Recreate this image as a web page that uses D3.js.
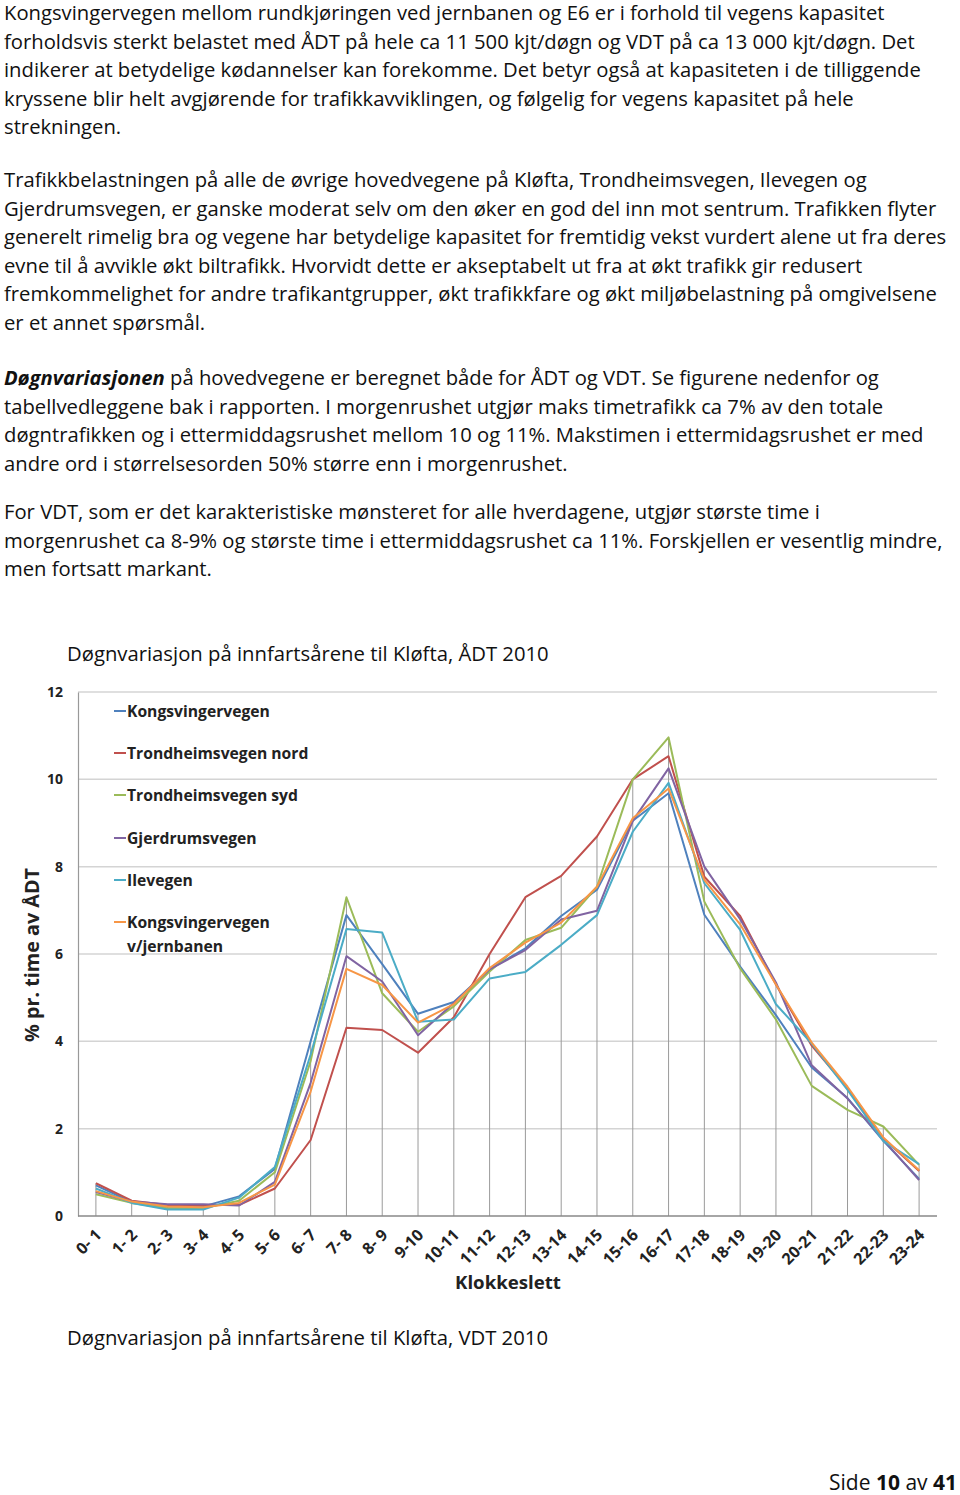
<!DOCTYPE html>
<html>
<head>
<meta charset="utf-8">
<script src="https://cdn.jsdelivr.net/npm/d3@7"></script>
<style>
  body { margin: 0; background: #fff; }
  svg { display: block; font-family: "Open Sans", Lato, sans-serif; }
</style>
</head>
<body>
<div id="page"></div>
<script>
// tekst over figuren, en linje per element
let para1 = [
	'Kongsvingervegen mellom rundkjøringen ved jernbanen og E6 er i forhold til vegens kapasitet',
	'forholdsvis sterkt belastet med ÅDT på hele ca 11 500 kjt/døgn og VDT på ca 13 000 kjt/døgn. Det',
	'indikerer at betydelige kødannelser kan forekomme. Det betyr også at kapasiteten i de tilliggende',
	'kryssene blir helt avgjørende for trafikkavviklingen, og følgelig for vegens kapasitet på hele',
	'strekningen.'
];
let para2 = [
	'Trafikkbelastningen på alle de øvrige hovedvegene på Kløfta, Trondheimsvegen, Ilevegen og',
	'Gjerdrumsvegen, er ganske moderat selv om den øker en god del inn mot sentrum. Trafikken flyter',
	'generelt rimelig bra og vegene har betydelige kapasitet for fremtidig vekst vurdert alene ut fra deres',
	'evne til å avvikle økt biltrafikk. Hvorvidt dette er akseptabelt ut fra at økt trafikk gir redusert',
	'fremkommelighet for andre trafikantgrupper, økt trafikkfare og økt miljøbelastning på omgivelsene',
	'er et annet spørsmål.'
];
let para3 = [
	'*Døgnvariasjonen* på hovedvegene er beregnet både for ÅDT og VDT. Se figurene nedenfor og',
	'tabellvedleggene bak i rapporten. I morgenrushet utgjør maks timetrafikk ca 7% av den totale',
	'døgntrafikken og i ettermiddagsrushet mellom 10 og 11%. Makstimen i ettermidagsrushet er med',
	'andre ord i størrelsesorden 50% større enn i morgenrushet.'
];
let para4 = [
	'For VDT, som er det karakteristiske mønsteret for alle hverdagene, utgjør største time i',
	'morgenrushet ca 8-9% og største time i ettermiddagsrushet ca 11%. Forskjellen er vesentlig mindre,',
	'men fortsatt markant.'
];

let title1 = 'Døgnvariasjon på innfartsårene til Kløfta, ÅDT 2010';
let title2 = 'Døgnvariasjon på innfartsårene til Kløfta, VDT 2010';

let hours = ['0- 1','1- 2','2- 3','3- 4','4- 5','5- 6','6- 7','7- 8','8- 9','9-10','10-11','11-12',
	'12-13','13-14','14-15','15-16','16-17','17-18','18-19','19-20','20-21','21-22','22-23','23-24'];

let yTicks = [0, 2, 4, 6, 8, 10, 12];

let seriesNames = ['Kongsvingervegen', 'Trondheimsvegen nord', 'Trondheimsvegen syd',
	'Gjerdrumsvegen', 'Ilevegen', 'Kongsvingervegen v/jernbanen'];
let seriesColors = ['#4f81bd', '#c0504d', '#9bbb59', '#8064a2', '#4bacc6', '#f79646'];

// % pr. time av ÅDT, lest av figuren
let kongsvingervegen = [0.70,0.32,0.22,0.22,0.45,1.08,4.00,6.89,5.77,4.63,4.90,5.65,6.13,6.87,7.47,9.05,9.68,6.90,5.71,4.60,3.40,2.70,1.72,0.85];
let trondheimNord    = [0.75,0.35,0.25,0.25,0.25,0.63,1.74,4.31,4.26,3.74,4.55,6.00,7.30,7.79,8.69,10.0,10.53,7.77,6.87,5.30,3.90,2.93,1.78,1.03];
let trondheimSyd     = [0.50,0.30,0.18,0.18,0.35,1.00,3.55,7.30,5.10,4.22,4.80,5.60,6.32,6.60,7.54,10.0,10.96,7.20,5.67,4.50,2.98,2.43,2.05,1.17];
let gjerdrumsvegen   = [0.55,0.33,0.27,0.27,0.24,0.78,3.05,5.95,5.37,4.14,4.88,5.65,6.09,6.79,6.99,9.05,10.25,8.00,6.80,5.35,3.45,2.69,1.75,0.82];
let ilevegen         = [0.63,0.30,0.15,0.15,0.42,1.12,3.70,6.57,6.49,4.45,4.50,5.44,5.59,6.21,6.89,8.80,9.92,7.62,6.55,4.85,3.95,2.89,1.72,1.19];
let kongsvJernbanen  = [0.57,0.33,0.22,0.20,0.30,0.72,2.85,5.66,5.29,4.43,4.85,5.68,6.26,6.72,7.54,9.11,9.79,7.70,6.68,5.30,3.97,2.96,1.80,1.05];

let seriesValues = [kongsvingervegen, trondheimNord, trondheimSyd, gjerdrumsvegen, ilevegen, kongsvJernbanen];

let W = 960, H = 1495;

let svg = d3.select('#page')
	.append('svg')
	.attr('width', W)
	.attr('height', H);

// finn skriftstørrelse slik at en prøvetekst får ønsket bredde (erstatter Calibri)
function fitSize(str, target, weight) {
	let t = svg.append('text').style('font-size', '20px').style('font-weight', weight || 'normal').text(str);
	let w = t.node().getComputedTextLength();
	t.remove();
	return 20 * target / w;
}

let bodySize = fitSize(para1[0], 881);
let lineH = 28.5;

function drawPara(lines, top) {
	lines.forEach((ln, i) => {
		let t = svg.append('text')
			.attr('x', 4)
			.attr('y', top + i * lineH)
			.style('font-size', bodySize + 'px')
			.style('fill', '#111');
		let parts = ln.split('*');
		parts.forEach((p, j) => {
			if (!p) return;
			let sp = t.append('tspan').text(p);
			if (j % 2 === 1) sp.style('font-weight', 'bold').style('font-style', 'italic');
		});
	});
}

drawPara(para1, 20);
drawPara(para2, 187);
drawPara(para3, 385);
drawPara(para4, 519);

let titleSize = fitSize(title1, 482);
svg.append('text')
	.attr('x', 67).attr('y', 661)
	.style('font-size', titleSize + 'px').style('fill', '#111')
	.text(title1);

svg.append('text')
	.attr('x', 67).attr('y', 1345)
	.style('font-size', titleSize + 'px').style('fill', '#111')
	.text(title2);

let foot = svg.append('text')
	.attr('x', 957).attr('y', 1490)
	.attr('text-anchor', 'end')
	.style('font-size', fitSize('Side 10 av 41', 128) + 'px').style('fill', '#111');
foot.append('tspan').text('Side ');
foot.append('tspan').style('font-weight', 'bold').text('10');
foot.append('tspan').text(' av ');
foot.append('tspan').style('font-weight', 'bold').text('41');

// diagram
let plot = {left: 78, right: 937, top: 692, bottom: 1216};

let xScale = d3.scalePoint()
	.domain(hours)
	.range([plot.left, plot.right])
	.padding(0.5);

let yScale = d3.scaleLinear()
	.domain([0, 12])
	.range([plot.bottom, plot.top]);

let g = svg.append('g');

// horisontale gridlinjer
g.selectAll('.grid')
	.data(yTicks.filter(d => d > 0))
	.enter()
	.append('line')
	.attr('x1', plot.left).attr('x2', plot.right)
	.attr('y1', d => yScale(d)).attr('y2', d => yScale(d))
	.style('stroke', '#d4d4d4')
	.style('stroke-width', 1.5);

// loddlinjer fra høyeste verdi ned til aksen
g.selectAll('.drop')
	.data(hours)
	.enter()
	.append('line')
	.attr('x1', d => xScale(d)).attr('x2', d => xScale(d))
	.attr('y1', yScale(0))
	.attr('y2', (d, i) => yScale(d3.max(seriesValues, s => s[i])))
	.style('stroke', '#9a9a9a')
	.style('stroke-width', 1);

// akser
let tickSize = fitSize('12', 16, 'bold');
let yAxis = d3.axisLeft(yScale).tickValues(yTicks).tickSize(0).tickPadding(15);
let yG = g.append('g')
	.attr('transform', 'translate(' + plot.left + ',0)')
	.call(yAxis);
yG.select('.domain').style('stroke', '#999').style('stroke-width', 1.2);
yG.selectAll('text')
	.style('font-family', '"Open Sans", Lato, sans-serif')
	.style('font-size', tickSize + 'px').style('font-weight', 'bold').style('fill', '#222');

let xTickSize = fitSize('10-11', 42, 'bold');
let xAxis = d3.axisBottom(xScale).tickSize(0).tickPadding(0);
let xG = g.append('g')
	.attr('transform', 'translate(0,' + plot.bottom + ')')
	.call(xAxis);
xG.select('.domain').attr('d', 'M' + plot.left + ',0H' + plot.right)
	.style('stroke', '#888').style('stroke-width', 1.5);
xG.selectAll('text')
	.attr('text-anchor', 'end')
	.attr('dy', null)
	.attr('y', 0)
	.attr('transform', 'translate(6,20) rotate(-45)')
	.style('font-family', '"Open Sans", Lato, sans-serif')
	.style('font-size', xTickSize + 'px').style('font-weight', 'bold').style('fill', '#222');

svg.append('text')
	.attr('x', 508).attr('y', 1289)
	.attr('text-anchor', 'middle')
	.style('font-size', fitSize('Klokkeslett', 106, 'bold') + 'px').style('font-weight', 'bold').style('fill', '#222')
	.text('Klokkeslett');

svg.append('text')
	.attr('transform', 'translate(39,955) rotate(-90)')
	.attr('text-anchor', 'middle')
	.style('font-size', fitSize('% pr. time av ÅDT', 174, 'bold') + 'px').style('font-weight', 'bold').style('fill', '#222')
	.text('% pr. time av ÅDT');

// linjer
let line = d3.line()
	.x((d, i) => xScale(hours[i]))
	.y(d => yScale(d));

g.selectAll('.line')
	.data(seriesValues)
	.enter()
	.append('path')
	.attr('class', 'line')
	.attr('d', d => line(d))
	.style('stroke', (d, i) => seriesColors[i])
	.style('stroke-width', 2)
	.style('stroke-linejoin', 'round')
	.style('fill', 'none');

// tegnforklaring
let legSize = fitSize('Kongsvingervegen', 143, 'bold');
let leg = svg.append('g');
let legY = [711, 753, 795, 838, 880, 922];
seriesNames.forEach((name, i) => {
	leg.append('line')
		.attr('x1', 114).attr('x2', 126)
		.attr('y1', legY[i]).attr('y2', legY[i])
		.style('stroke', seriesColors[i]).style('stroke-width', 2);
	let words = name === 'Kongsvingervegen v/jernbanen' ? ['Kongsvingervegen', 'v/jernbanen'] : [name];
	words.forEach((w, j) => {
		leg.append('text')
			.attr('x', 127)
			.attr('y', legY[i] + 6 + j * 24)
			.style('font-size', legSize + 'px').style('font-weight', 'bold').style('fill', '#222')
			.text(w);
	});
});
</script>
</body>
</html>
